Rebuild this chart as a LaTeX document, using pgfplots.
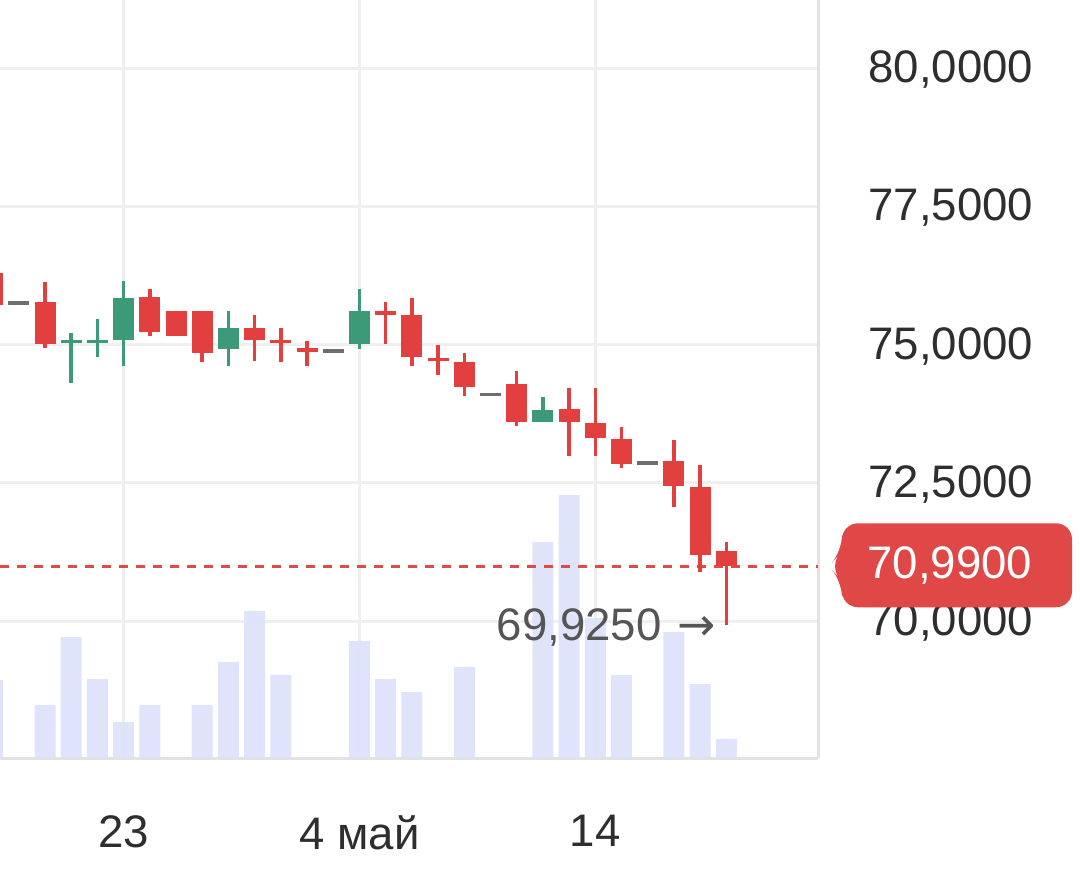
\documentclass[border=0pt]{standalone}
\usepackage{pgfplots}
\pgfplotsset{compat=1.18}
\usepackage{pgfplotstable}
\usepackage{fontspec}
\setmainfont{Liberation Sans}
\newfontfamily\dejavu{DejaVu Sans}
\definecolor{cred}{HTML}{E23F3F}
\definecolor{cgreen}{HTML}{3C9A78}
\definecolor{cgrey}{HTML}{6E6E6E}
\definecolor{cvol}{HTML}{DDE3FA}
\definecolor{cgrid}{HTML}{EFEFEF}
\definecolor{caxis}{HTML}{E2E2E2}
\definecolor{cbadge}{HTML}{E04848}
\definecolor{clabel}{HTML}{2E2E2E}
\definecolor{cann}{HTML}{555555}

\pgfplotstableread{
x o h l c
-2 76.29 76.35 75.65 75.71
0 75.77 76.13 74.94 75.01
4 75.86 76.00 75.15 75.23
5 75.61 75.61 75.15 75.15
6 75.61 75.61 74.68 74.85
8 75.30 75.53 74.70 75.08
9 75.08 75.30 74.68 75.02
10 74.93 75.06 74.61 74.87
13 75.60 75.77 75.01 75.54
14 75.53 75.84 74.61 74.77
15 74.76 74.99 74.45 74.70
16 74.68 74.85 74.07 74.23
18 74.29 74.52 73.53 73.60
20 73.83 74.21 72.98 73.60
21 73.58 74.21 72.98 73.31
22 73.29 73.51 72.77 72.84
24 72.89 73.27 72.06 72.44
25 72.42 72.82 70.89 71.19
26 71.27 71.43 69.925 70.99
}\redtab

\pgfplotstableread{
x o h l c
1 75.02 75.21 74.30 75.08
2 75.02 75.46 74.77 75.08
3 75.08 76.15 74.61 75.84
7 74.92 75.61 74.61 75.30
12 75.01 76.00 74.92 75.61
19 73.60 74.05 73.60 73.82
}\greentab

\pgfplotstableread{
x o h l c
-1 75.78 75.78 75.72 75.72
11 74.91 74.91 74.85 74.85
17 74.13 74.13 74.07 74.07
23 72.89 72.89 72.83 72.83
}\greytab

\pgfplotstableread{
x v
-2 78
0 53
1 121
2 79
3 36
4 53
6 53
7 96
8 147
9 83
12 117
13 79
14 66
16 91
19 216
20 263
21 140
22 83
24 126
25 74
26 19
}\voltab

\begin{document}
\begin{tikzpicture}[x=0.5pt,y=0.5pt]
\path[use as bounding box] (0pt,0pt) rectangle (540pt,445.5pt);
\pgfplotsset{myaxis/.style={at={(0pt,66.5pt)}, anchor=south west, width=409pt, height=379pt, scale only axis, xmin=-1.718, xmax=29.5}}
% grid, axis lines and labels
\begin{axis}[myaxis, ymin=67.523, ymax=81.23,
  axis x line*=bottom, axis y line*=right,
  axis line style={caxis, line width=1.5pt, -},
  xtick={3,12,21}, xticklabels={23,4 май,14},
  ytick={70,72.5,75,77.5,80},
  yticklabels={{70,0000},{72,5000},{75,0000},{77,5000},{80,0000}},
  major tick length=0pt,
  grid=major, major grid style={cgrid, line width=1.5pt},
  tick label style={font=\fontsize{22.8}{27}\selectfont, text=clabel},
  xticklabel style={anchor=north, inner sep=0pt, yshift=-28.5pt},
  yticklabel style={anchor=west, inner sep=0pt, xshift=25pt, yshift=-0.8pt},
]
\end{axis}
% volume
\begin{axis}[myaxis, hide axis, ymin=0, ymax=758, ybar, bar width=10.5pt]
\addplot[fill=cvol, fill opacity=0.95, draw=none] table[x=x, y=v]{\voltab};
\end{axis}
% candles
\begin{axis}[myaxis, hide axis, ymin=67.523, ymax=81.23,
  candle/.style 2 args={draw=none, mark=none, forget plot,
    error bars/y dir=plus, error bars/y explicit, error bars/error mark=none,
    error bars/error bar style={draw=#1, line width=#2, solid}}]
\addplot[cred!95, dash pattern=on 4.5pt off 4pt, line width=1.5pt, forget plot] coordinates {(-1.718,70.99) (29.5,70.99)};
% wicks
\addplot[candle={cred}{1.75pt}] table[x=x, y=l, y error plus expr=\thisrow{h}-\thisrow{l}]{\redtab};
\addplot[candle={cgreen}{1.75pt}] table[x=x, y=l, y error plus expr=\thisrow{h}-\thisrow{l}]{\greentab};
% bodies
\addplot[candle={cred}{10.5pt}] table[x=x, y=c, y error plus expr=\thisrow{o}-\thisrow{c}]{\redtab};
\addplot[candle={cgreen}{10.5pt}] table[x=x, y=o, y error plus expr=\thisrow{c}-\thisrow{o}]{\greentab};
\addplot[candle={cgrey}{10.5pt}] table[x=x, y=c, y error plus expr=\thisrow{o}-\thisrow{c}]{\greytab};
\node[anchor=east, inner sep=0pt, text=cann, font=\fontsize{22.8}{27}\selectfont, xshift=-5pt, yshift=-1pt] at (axis cs:26,69.925) {69,9250\hspace{8pt}{\dejavu →}};
\coordinate (last) at (axis cs:29.5,70.99);
\end{axis}
\begin{scope}[shift={(last)}]
\fill[cbadge, rounded corners=8] (11,0) -- (24,15) -- (24,43) -- (254,43) -- (254,-41) -- (24,-41) -- (24,-15) -- cycle;
\node[text=white, anchor=west, inner sep=0pt, font=\fontsize{22.8}{27}\selectfont] at (49,1) {70,9900};
\end{scope}
\end{tikzpicture}
\end{document}
